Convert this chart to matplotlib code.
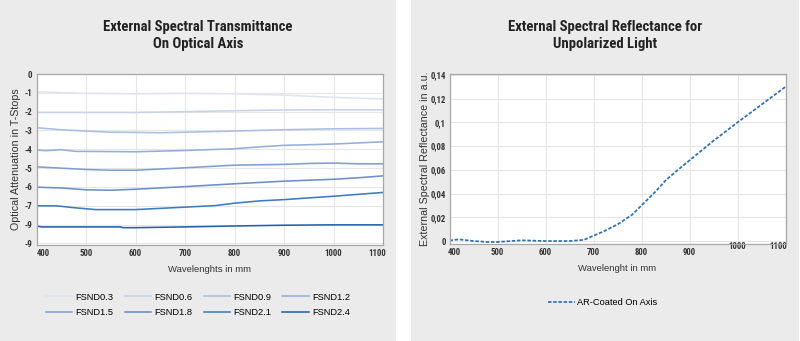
import matplotlib
matplotlib.use("Agg")
import matplotlib.pyplot as plt
from matplotlib.patches import Rectangle
import matplotlib.transforms as mtransforms

plt.rcParams['font.family'] = ['Liberation Sans', 'DejaVu Sans']

# ---------------- data ----------------
series_names = ["FSND0.3", "FSND0.6", "FSND0.9", "FSND1.2",
                "FSND1.5", "FSND1.8", "FSND2.1", "FSND2.4"]

wl_03 = [400, 500, 600, 700, 800, 900, 1000, 1100]
fsnd03 = [-0.94, -1.03, -1.05, -1.03, -1.05, -1.12, -1.24, -1.33]

wl_06 = [400, 500, 600, 700, 800, 900, 1000, 1100]
fsnd06 = [-2.04, -2.04, -2.04, -2.0, -1.95, -1.91, -1.9, -1.9]

wl_09 = [400, 450, 500, 550, 600, 650, 700, 800, 900, 1000, 1100]
fsnd09 = [-2.85, -2.96, -3.03, -3.09, -3.1, -3.12, -3.09, -3.03, -2.96, -2.91, -2.89]

wl_12 = [400, 420, 450, 480, 500, 600, 700, 800, 850, 900, 1000, 1100]
fsnd12 = [-4.04, -4.07, -4.02, -4.11, -4.11, -4.13, -4.06, -3.97, -3.87, -3.79, -3.72, -3.6]

wl_15 = [400, 500, 550, 600, 700, 800, 900, 950, 1000, 1050, 1100]
fsnd15 = [-4.93, -5.07, -5.11, -5.11, -4.98, -4.84, -4.8, -4.75, -4.73, -4.77, -4.77]

wl_18 = [400, 450, 500, 550, 600, 700, 800, 900, 1000, 1050, 1100]
fsnd18 = [-6.01, -6.05, -6.15, -6.17, -6.12, -5.98, -5.83, -5.69, -5.59, -5.51, -5.41]

wl_21 = [400, 440, 480, 520, 600, 700, 760, 800, 850, 900, 1000, 1100]
fsnd21 = [-7.0, -7.0, -7.11, -7.2, -7.2, -7.07, -6.99, -6.86, -6.74, -6.67, -6.49, -6.29]

wl_24 = [400, 410, 500, 570, 575, 600, 700, 800, 900, 1000, 1100]
fsnd24 = [-8.07, -8.12, -8.12, -8.12, -8.16, -8.16, -8.12, -8.07, -8.03, -8.01, -8.01]

left_yticks = [0, -1, -2, -3, -4, -5, -6, -7, -8, -9]
left_yticklabels = ["0", "-1", "-2", "-3", "-4", "-5", "-6", "-7", "-9", "-9"]
xticks = [400, 500, 600, 700, 800, 900, 1000, 1100]

refl_wl = [400, 420, 450, 480, 500, 550, 600, 650, 680, 700, 720, 750, 780,
           800, 830, 850, 870, 900, 950, 1000, 1050, 1100]
refl = [0.0005, 0.0014, 0.0, -0.0008, -0.0008, 0.0006, 0.0, 0.0, 0.001, 0.0045,
        0.0079, 0.014, 0.022, 0.030, 0.042, 0.051, 0.058, 0.068, 0.0845, 0.1,
        0.115, 0.130]
right_yticks = [0, 0.02, 0.04, 0.06, 0.08, 0.1, 0.12, 0.14]
right_yticklabels = ["0", "0,02", "0,04", "0,06", "0,08", "0,1", "0,12", "0,14"]

colors = ["#dfe5ef", "#c4d2ea", "#a9bee2", "#93aedb",
          "#7e9fd4", "#6990cc", "#3d7bc2", "#2263ae"]

# ---------------- figure ----------------
W, H = 800, 341
fig = plt.figure(figsize=(W / 100, H / 100), dpi=100)
fig.patch.set_facecolor("white")
panel_c = "#ebebec"
fig.patches.append(Rectangle((0, 0), 396 / W, 1, transform=fig.transFigure,
                             facecolor=panel_c, edgecolor="none", zorder=-5))
fig.patches.append(Rectangle((411 / W, 0), 388 / W, 1, transform=fig.transFigure,
                             facecolor=panel_c, edgecolor="none", zorder=-5))


def fx(px):
    return px / W


def fy(py):
    return 1 - py / H


axL = fig.add_axes([fx(36.5), fy(245), fx(383) - fx(36.5), fy(74) - fy(245)])
axR = fig.add_axes([fx(449.5), fy(244), fx(785.5) - fx(449.5), fy(74) - fy(244)])

grid_c = "#e6e6e6"
spine_c = "#a8a8a8"
txt_c = "#333333"
cond_fam = ["Roboto Condensed", "Archivo Narrow", "DejaVu Sans"]
cond = dict(family=cond_fam, fontweight="bold")

for ax in (axL, axR):
    ax.set_facecolor("white")
    for s in ax.spines.values():
        s.set_color(spine_c)
        s.set_linewidth(0.9)
    ax.grid(True, color=grid_c, linewidth=0.8)
    ax.set_axisbelow(True)
    ax.tick_params(length=0, pad=3, colors=txt_c)
    ax.set_xlim(400, 1100)
    ax.set_xticks(xticks)
    ax.set_xticklabels([str(t) for t in xticks], fontsize=6.3, color=txt_c, **cond)

# left chart
data = [(wl_03, fsnd03), (wl_06, fsnd06), (wl_09, fsnd09), (wl_12, fsnd12),
        (wl_15, fsnd15), (wl_18, fsnd18), (wl_21, fsnd21), (wl_24, fsnd24)]
handles = []
for (x, y), name, c in zip(data, series_names, colors):
    h, = axL.plot(x, y, color=c, linewidth=1.15, label=name)
    handles.append(h)
axL.set_ylim(-9.08, 0)
axL.set_yticks(left_yticks)
axL.set_yticklabels(left_yticklabels, fontsize=6.5, color=txt_c, **cond)
axL.set_xlabel("Wavelenghts in mm", fontsize=6.8, color=txt_c)
axL.set_ylabel("Optical Attenuation in T-Stops", fontsize=7.7, color=txt_c)
axL.xaxis.set_label_coords(0.5, (245 - 265) / 171)
axL.yaxis.set_label_coords((21 - 36.5) / 346.5, 0.5)

# legend filled row by row (4 columns)
order = [0, 4, 1, 5, 2, 6, 3, 7]
axL.legend([handles[i] for i in order], [series_names[i] for i in order],
           ncol=4, loc="center", bbox_to_anchor=(fx(198), fy(305)),
           bbox_transform=fig.transFigure, frameon=False,
           handlelength=2.8, handletextpad=0.35, columnspacing=1.23,
           labelspacing=0.72, borderpad=0, prop={"size": 6.7})

# right chart
axR.plot(refl_wl, refl, color="#2a6fbb", linewidth=1.25, linestyle=(0, (2.0, 1.0)),
         label="AR-Coated On Axis")
axR.set_ylim(-0.0025, 0.1408)
axR.set_yticks(right_yticks)
axR.set_yticklabels(right_yticklabels, fontsize=6.3, color=txt_c, **cond)
axR.tick_params(axis="y", pad=2.5)
axR.set_xlabel("Wavelenght in mm", fontsize=6.8, color=txt_c)
axR.set_ylabel("External Spectral Reflectance in a.u.", fontsize=7.7, color=txt_c)
axR.xaxis.set_label_coords(0.5, (244 - 264) / 170)
axR.yaxis.set_label_coords((429.5 - 449.5) / 336, 0.5)
axR.legend(loc="center", bbox_to_anchor=(fx(603), fy(302.7)),
           bbox_transform=fig.transFigure, frameon=False, borderpad=0,
           handlelength=2.9, handletextpad=0.2, prop={"size": 6.7})


def shift(lbl, dx, dy):
    off = mtransforms.ScaledTranslation(dx / 100, dy / 100, fig.dpi_scale_trans)
    lbl.set_transform(lbl.get_transform() + off)


for lbl in axL.get_xticklabels():
    if lbl.get_text() == "400":
        shift(lbl, 6.8, 0)
    elif lbl.get_text() == "1100":
        shift(lbl, -6.3, 0)
for lbl in axR.get_xticklabels():
    t = lbl.get_text()
    if t == "400":
        shift(lbl, 4.8, 0)
    elif t == "1000":
        shift(lbl, 0, 6.6)
    elif t == "1100":
        shift(lbl, -7, 6.6)

# titles
tkw = dict(ha="center", va="center", fontsize=10.6, color="#222222", **cond)
fig.text(fx(198), fy(27), "External Spectral Transmittance", **tkw)
fig.text(fx(198), fy(44), "On Optical Axis", **tkw)
fig.text(fx(605), fy(27), "External Spectral Reflectance for", **tkw)
fig.text(fx(605), fy(44), "Unpolarized Light", **tkw)

fig.savefig("out.png", dpi=100)
